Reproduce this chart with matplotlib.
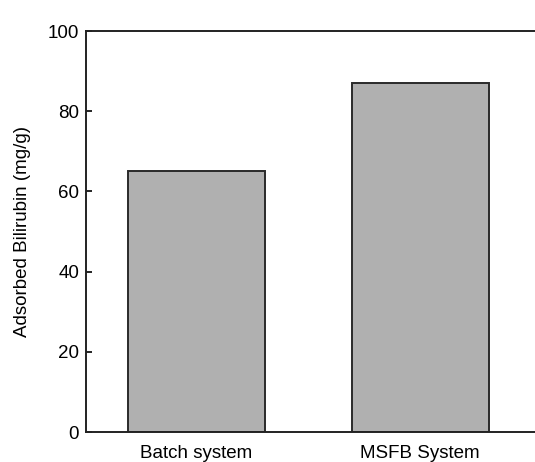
import matplotlib.pyplot as plt

plt.rcParams['font.family'] = ['Liberation Sans', 'DejaVu Sans']

categories = ['Batch system', 'MSFB System']
adsorbed = [65, 87]
y_ticks = [0, 20, 40, 60, 80, 100]

fig = plt.figure(figsize=(5.35, 4.62), dpi=100)
ax = fig.add_axes([0.1607, 0.0649, 0.8393, 0.868])

ax.bar(range(len(categories)), adsorbed, width=0.61, color='#b0b0b0',
       edgecolor='#2a2a2a', linewidth=1.4)

ax.set_xlim(-0.492, 0.512 + 1)
ax.set_ylim(0, 100)
ax.set_yticks(y_ticks)
ax.set_xticks(range(len(categories)))
ax.set_xticklabels(categories, fontsize=13.5)
ax.tick_params(axis='x', length=0, pad=9)
ax.tick_params(axis='y', direction='in', length=4, width=1.2, labelsize=13.5, pad=5)
ax.set_ylabel('Adsorbed Bilirubin (mg/g)', fontsize=13.5, labelpad=12)

for s in ['left', 'top', 'bottom']:
    ax.spines[s].set_linewidth(1.4)
    ax.spines[s].set_color('#222222')
ax.spines['right'].set_visible(False)

fig.savefig('out.png', dpi=100)
